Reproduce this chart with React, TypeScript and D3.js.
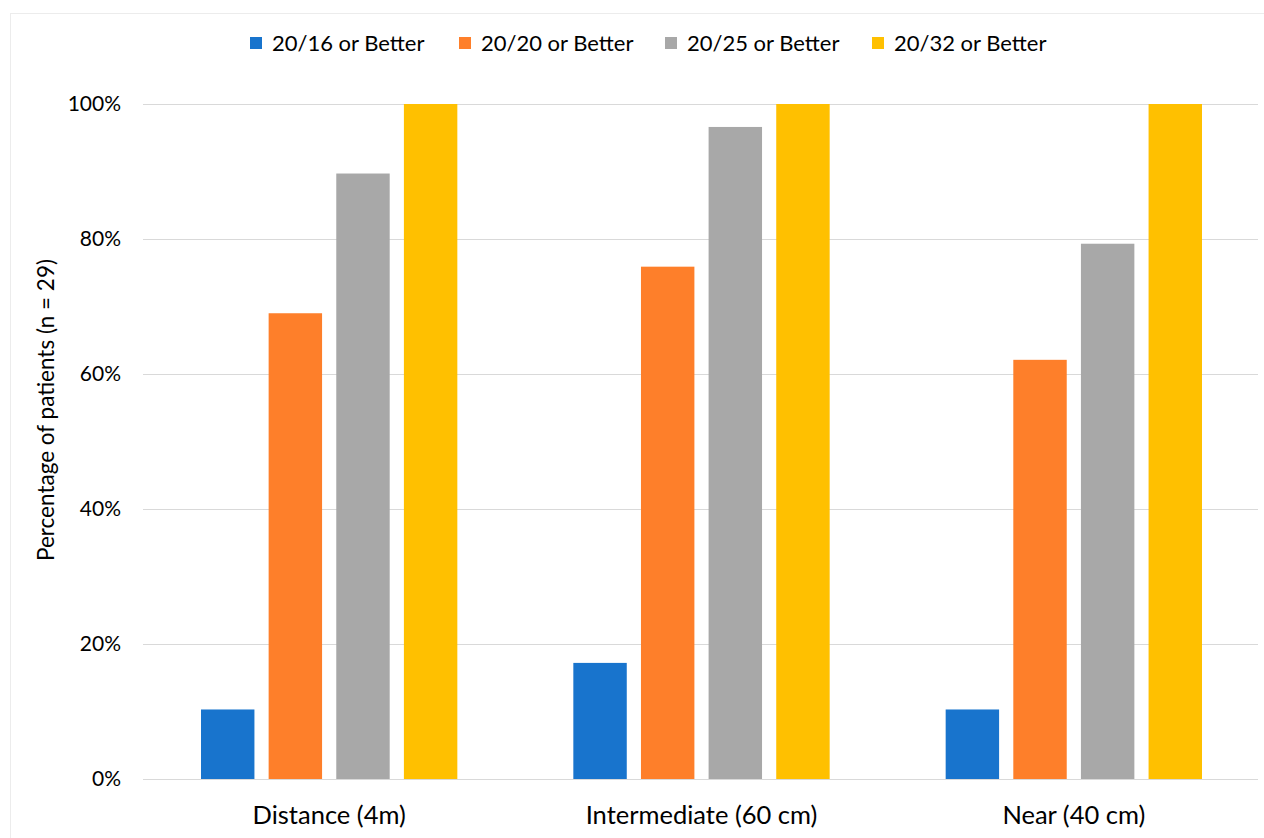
import { useEffect, useRef } from "react";
import * as d3 from "d3";

const categories = ["Distance (4m)", "Intermediate (60 cm)", "Near (40 cm)"];
const seriesNames = ["20/16 or Better", "20/20 or Better", "20/25 or Better", "20/32 or Better"];
const seriesColors = ["#1874cd", "#fe7f2a", "#a8a8a8", "#ffc000"];
// percent of patients per category, one array per series
const better2016 = [10.3, 17.2, 10.3];
const better2020 = [69.0, 75.9, 62.1];
const better2025 = [89.7, 96.6, 79.3];
const better2032 = [100, 100, 100];
const yTicks = [0, 20, 40, 60, 80, 100];

const FONT = "Lato, 'Open Sans', sans-serif";

export default function App() {
  const svgRef = useRef<SVGSVGElement | null>(null);

  useEffect(() => {
    if (!svgRef.current) return;
    document.body.style.margin = "0";
    const svg = d3.select(svgRef.current);
    svg.selectAll("*").remove();

    const width = 1264;
    const height = 838;
    const margin = { top: 104, right: 4, bottom: 59, left: 143 };
    const innerW = width - margin.left - margin.right;
    const innerH = height - margin.top - margin.bottom;
    const series = [better2016, better2020, better2025, better2032];

    svg.attr("width", width).attr("height", height).attr("viewBox", `0 0 ${width} ${height}`);

    svg.append("rect")
      .attr("x", 10.5).attr("y", 13.5)
      .attr("width", width).attr("height", height)
      .attr("fill", "#fff").attr("stroke", "#ececec");

    const x0 = d3.scaleBand().domain(categories).range([0, innerW]).paddingInner(0).paddingOuter(0);
    const x1 = d3.scaleBand<number>()
      .domain(d3.range(series.length))
      .range([58, x0.bandwidth() - 58])
      .paddingInner(0.21);
    const y = d3.scaleLinear().domain([0, 100]).range([innerH, 0]);

    const g = svg.append("g").attr("transform", `translate(${margin.left},${margin.top})`);

    // grid
    g.append("g")
      .selectAll("line")
      .data(yTicks)
      .join("line")
      .attr("x1", 0).attr("x2", innerW - 2)
      .attr("y1", (d) => Math.round(y(d)) + 0.5).attr("y2", (d) => Math.round(y(d)) + 0.5)
      .attr("stroke", "#d9d9d9");

    // y axis
    g.append("g")
      .call(d3.axisLeft(y).tickValues(yTicks).tickFormat((d) => `${d}%`).tickSize(0).tickPadding(22))
      .call((sel) => sel.select(".domain").remove())
      .call((sel) => sel.selectAll("text").attr("fill", "#000").attr("font-size", 21).attr("font-family", FONT));

    // x axis labels
    g.append("g")
      .attr("transform", `translate(0,${innerH})`)
      .call(d3.axisBottom(x0).tickSize(0).tickPadding(27))
      .call((sel) => sel.select(".domain").remove())
      .call((sel) => sel.selectAll("text").attr("fill", "#000").attr("font-size", 25.5).attr("font-family", FONT));

    // bars
    const groups = g.append("g")
      .selectAll("g")
      .data(categories)
      .join("g")
      .attr("transform", (d) => `translate(${x0(d)},0)`);

    groups.selectAll("rect")
      .data((_, ci) => series.map((s, si) => ({ si, v: s[ci] })))
      .join("rect")
      .attr("x", (d) => x1(d.si)!)
      .attr("y", (d) => y(d.v))
      .attr("width", x1.bandwidth())
      .attr("height", (d) => innerH - y(d.v))
      .attr("fill", (d) => seriesColors[d.si]);

    // y title
    svg.append("text")
      .attr("transform", `translate(54,410) rotate(-90)`)
      .attr("text-anchor", "middle")
      .attr("font-size", 22.5)
      .attr("font-family", FONT)
      .attr("fill", "#000")
      .text("Percentage of patients (n = 29)");

    // legend
    const legendX = [250, 459, 665, 872];
    const legend = svg.append("g")
      .selectAll("g")
      .data(seriesNames)
      .join("g")
      .attr("transform", (_, i) => `translate(${legendX[i]},43)`);
    legend.append("rect")
      .attr("x", 0).attr("y", -6).attr("width", 12).attr("height", 12)
      .attr("fill", (_, i) => seriesColors[i]);
    legend.append("text")
      .attr("x", 22).attr("y", 0).attr("dy", "0.35em")
      .attr("font-size", 22)
      .attr("font-family", FONT)
      .attr("fill", "#000")
      .text((d) => d);
  }, []);

  return <svg ref={svgRef} style={{ display: "block", position: "absolute", left: 0, top: 0 }} />;
}
